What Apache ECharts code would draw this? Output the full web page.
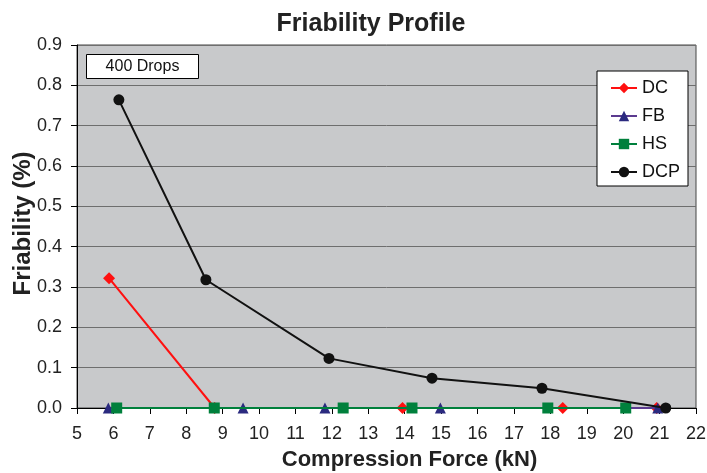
<!DOCTYPE html>
<html><head><meta charset="utf-8">
<script src="https://cdn.jsdelivr.net/npm/echarts@6/dist/echarts.min.js"></script>
<style>html,body{margin:0;padding:0;background:#fff}#c{width:707px;height:473px}</style>
</head><body><div id="c"></div>
<script>
var seriesNames = ['DC', 'FB', 'HS', 'DCP'];
var dcX = [5.88, 8.78, 13.94, 18.34, 20.92];
var dcY = [0.322, 0.0, 0.0, 0.0, 0.0];
var fbX = [5.86, 9.56, 11.81, 14.98, 20.95];
var fbY = [0.0, 0.0, 0.0, 0.0, 0.0];
var hsX = [6.09, 8.77, 12.31, 14.2, 17.93, 20.07];
var hsY = [0.0, 0.0, 0.0, 0.0, 0.0, 0.0];
var dcpX = [6.15, 8.54, 11.92, 14.75, 17.77, 21.17];
var dcpY = [0.764, 0.318, 0.123, 0.074, 0.049, 0.0];
var xTicks = [5,6,7,8,9,10,11,12,13,14,15,16,17,18,19,20,21,22];
var yTicks = [0.0,0.1,0.2,0.3,0.4,0.5,0.6,0.7,0.8,0.9];

function pairs(xs, ys){ return xs.map(function(x,i){ return [x, ys[i]]; }); }

var chart = echarts.init(document.getElementById('c'), null, {renderer:'canvas'});
var font = 'Liberation Sans, Arial, sans-serif';
chart.setOption({
  animation: false,
  backgroundColor: '#ffffff',
  title: {
    text: 'Friability Profile', left: 366, top: 7, textAlign: 'center',
    textStyle: {fontFamily: font, fontSize: 25, fontWeight: 'bold', color: '#222'}
  },
  grid: {left: 77, right: 11, top: 45, bottom: 65, containLabel: false, outerBoundsMode: 'none',
    show: true, backgroundColor: '#c8c9cb', borderColor: '#444', borderWidth: 1},
  legend: {
    orient: 'vertical', left: 597, top: 71,
    backgroundColor: '#fff', borderColor: '#000', borderWidth: 1,
    padding: [8, 8, 5, 13], itemGap: 10, itemWidth: 26, itemHeight: 13,
    textStyle: {fontFamily: font, fontSize: 18, color: '#111'},
    data: seriesNames
  },
  xAxis: {
    type: 'value', min: xTicks[0], max: xTicks[xTicks.length-1], interval: 1,
    name: 'Compression Force (kN)', nameLocation: 'middle', nameGap: 41, nameMoveOverlap: false,
    nameTextStyle: {fontFamily: font, fontSize: 22, fontWeight: 'bold', color: '#222', padding: [0, 0, 0, 46]},
    axisLine: {show: true, lineStyle: {color: '#000', width: 1}},
    axisTick: {show: true, length: 6, lineStyle: {color: '#000'}},
    axisLabel: {fontFamily: font, fontSize: 18, color: '#222', margin: 17},
    splitLine: {show: false}
  },
  yAxis: {
    type: 'value', min: 0, max: 0.9, interval: 0.1,
    name: 'Friability (%)', nameLocation: 'middle', nameGap: 42, nameRotate: 90, nameMoveOverlap: false,
    nameTextStyle: {fontFamily: font, fontSize: 24, fontWeight: 'bold', color: '#222', padding: [0, 0, 0, 6]},
    axisLine: {show: true, lineStyle: {color: '#000', width: 1}},
    axisTick: {show: true, length: 6, lineStyle: {color: '#000'}},
    axisLabel: {fontFamily: font, fontSize: 18, color: '#222', margin: 15, formatter: function(v){ return v.toFixed(1); }},
    splitLine: {show: true, lineStyle: {color: '#6e6e6e', width: 1}}
  },
  graphic: [{
    type: 'group', left: 86, top: 54,
    children: [
      {type: 'rect', shape: {x: 0, y: 0, width: 112, height: 24}, style: {fill: '#fff', stroke: '#000', lineWidth: 1}},
      {type: 'text', style: {x: 56, y: 12, text: '400 Drops', align: 'center', verticalAlign: 'middle', fontFamily: font, fontSize: 16, fill: '#111'}}
    ]
  }],
  series: [
    {name: 'DC', type: 'line', data: pairs(dcX, dcY), symbol: 'diamond', symbolSize: 12, z: 2,
     itemStyle: {color: '#ff1010'}, lineStyle: {color: '#ff1010', width: 2}},
    {name: 'FB', type: 'line', data: pairs(fbX, fbY), symbol: 'triangle', symbolSize: 11, z: 3,
     itemStyle: {color: '#2b2a7f'}, lineStyle: {color: '#5b3a8f', width: 2}},
    {name: 'HS', type: 'line', data: pairs(hsX, hsY), symbol: 'rect', symbolSize: 11, z: 4,
     itemStyle: {color: '#00803c'}, lineStyle: {color: '#00803c', width: 2}},
    {name: 'DCP', type: 'line', data: pairs(dcpX, dcpY), symbol: 'circle', symbolSize: 11, z: 5,
     itemStyle: {color: '#111'}, lineStyle: {color: '#111', width: 2}}
  ]
});
</script></body></html>
